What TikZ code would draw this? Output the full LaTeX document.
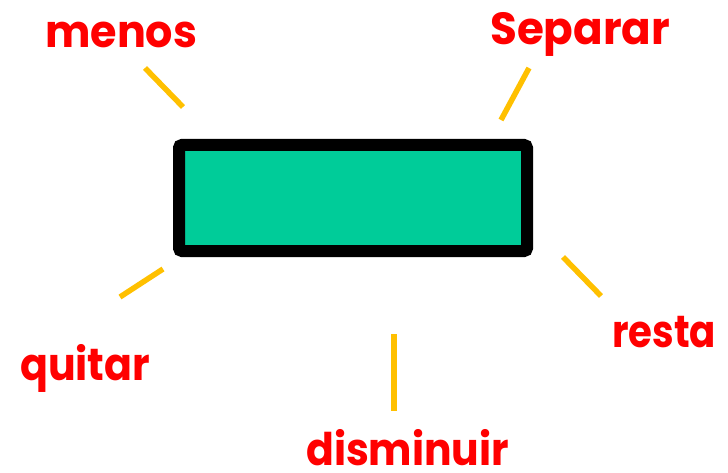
\documentclass[tikz,border=0pt]{standalone}
\usepackage{fontspec}
\usepackage{graphicx}
\setmainfont{Poppins}
\definecolor{boxgreen}{HTML}{00CC99}
\definecolor{tickyellow}{HTML}{FFC000}
\definecolor{labred}{HTML}{FF0000}
\newcommand\fitw[2]{\resizebox{#1}{\height}{#2}}
\begin{document}
\begin{tikzpicture}[x=1pt,y=-1pt,
  lab/.style={inner sep=0pt,anchor=base west,text=labred,font=\fontsize{45}{50}\selectfont\bfseries},
  tick/.style={draw=tickyellow,line width=5.5pt}]
\useasboundingbox (0,0) rectangle (728,473);
\draw[line width=12pt,fill=boxgreen,rounded corners=3pt] (179,145) rectangle (527,251);
\node[lab] (menos) at (45,48) {\fitw{152pt}{menos}};
\node[lab] (separar) at (490,45) {\fitw{180pt}{Separar}};
\node[lab] (quitar) at (20,380) {\fitw{130pt}{quitar}};
\node[lab] (resta) at (612,347) {\fitw{104pt}{resta}};
\node[lab] (disminuir) at (306,465) {\fitw{203pt}{disminuir}};
\coordinate (a1) at (145,68); \coordinate (a2) at (183,107);
\coordinate (b1) at (529,68); \coordinate (b2) at (501,120);
\coordinate (c1) at (163,269); \coordinate (c2) at (120,297);
\coordinate (d1) at (563,257); \coordinate (d2) at (601,296);
\coordinate (e1) at (394,334); \coordinate (e2) at (394,411);
\draw[tick] (a1) -- (a2);
\draw[tick] (b1) -- (b2);
\draw[tick] (c1) -- (c2);
\draw[tick] (d1) -- (d2);
\draw[tick] (e1) -- (e2);
\end{tikzpicture}
\end{document}
